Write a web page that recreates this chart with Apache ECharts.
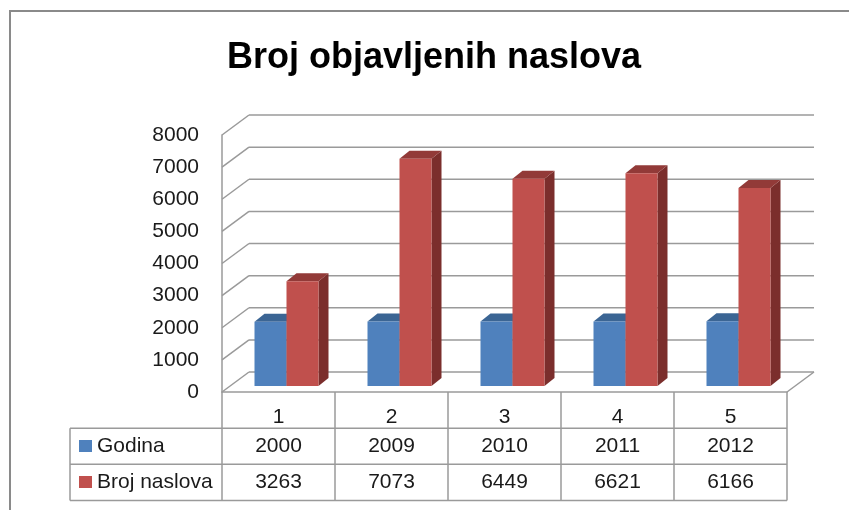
<!DOCTYPE html>
<html>
<head>
<meta charset="utf-8">
<script src="https://cdn.jsdelivr.net/npm/echarts@6/dist/echarts.min.js"></script>
<style>
html,body{margin:0;padding:0;background:#fff;}
#chart{width:849px;height:510px;}
</style>
</head>
<body>
<div id="chart"></div>
<script>
// ---- data ----
const titleText = 'Broj objavljenih naslova';
const categories = ['1', '2', '3', '4', '5'];
const seriesNames = ['Godina', 'Broj naslova'];
const godina = [2000, 2009, 2010, 2011, 2012];
const brojNaslova = [3263, 7073, 6449, 6621, 6166];
const yTicks = [0, 1000, 2000, 3000, 4000, 5000, 6000, 7000, 8000];

// ---- style ----
const FONT = 'Liberation Sans';
const TXT = '#1a1a1a';
const LINE = '#9a9a9a';
const LW = 1.5;
const DX = 27, DY = -20;           // depth offset of back wall
const BSX = 8, BSY = -6;           // bar front-face offset into depth
const BDX = 10, BDY = -8;          // bar depth
const BAR_W = 32;
const COLORS = [
  { front: '#4F81BD', top: '#3B6594', side: '#2F5078' },
  { front: '#C0504D', top: '#923A38', side: '#7B2E2C' }
];

const chart = echarts.init(document.getElementById('chart'), null, { renderer: 'canvas' });

function wallItem(params, api) {
  const v = api.value(1);
  const cs = params.coordSys;
  const y = api.coord([0, v])[1];
  const x0 = cs.x, x1 = cs.x + cs.width;
  const st = { stroke: LINE, lineWidth: LW, fill: null };
  const ch = [
    { type: 'line', shape: { x1: x0, y1: y, x2: x0 + DX, y2: y + DY }, style: st },
    { type: 'line', shape: { x1: x0 + DX, y1: y + DY, x2: x1 + DX, y2: y + DY }, style: st }
  ];
  if (v === 0) {
    ch.push({ type: 'line', shape: { x1: x1, y1: y, x2: x1 + DX, y2: y + DY }, style: st });
  }
  return { type: 'group', children: ch };
}

function barItem(side) {
  return function (params, api) {
    const idx = api.value(0), v = api.value(1);
    const base = api.coord([idx, 0]);
    const top = api.coord([idx, v]);
    const cx = base[0] + BSX;
    const y0 = base[1] + BSY;
    const y1 = top[1] + BSY;
    const x0 = side === 0 ? cx - BAR_W : cx;
    const x1 = x0 + BAR_W;
    const c = COLORS[side];
    return {
      type: 'group',
      children: [
        { type: 'polygon', shape: { points: [[x1, y1], [x1 + BDX, y1 + BDY], [x1 + BDX, y0 + BDY], [x1, y0]] }, style: { fill: c.side } },
        { type: 'polygon', shape: { points: [[x0, y1], [x1, y1], [x1 + BDX, y1 + BDY], [x0 + BDX, y1 + BDY]] }, style: { fill: c.top } },
        { type: 'rect', shape: { x: x0, y: y1, width: BAR_W, height: y0 - y1 }, style: { fill: c.front } }
      ]
    };
  };
}

function tableItem(params, api) {
  const idx = api.value(0);
  const p = api.coord([idx, 0]);
  const cx = p[0], yb = p[1];
  const ts = { fontFamily: FONT, fontSize: 21, fill: TXT, align: 'center', verticalAlign: 'middle' };
  return {
    type: 'group',
    children: [
      { type: 'text', style: Object.assign({ x: cx, y: yb + 54.5, text: String(godina[idx]) }, ts) },
      { type: 'text', style: Object.assign({ x: cx, y: yb + 90.5, text: String(brojNaslova[idx]) }, ts) }
    ]
  };
}

const option = {
  animation: false,
  backgroundColor: '#ffffff',
  title: {
    text: titleText,
    left: 227,
    top: 40,
    padding: 0,
    textStyle: { fontFamily: FONT, fontWeight: 'bold', fontSize: 36, color: '#000' }
  },
  legend: {
    data: seriesNames,
    orient: 'vertical',
    left: 79,
    top: 428,
    padding: 0,
    itemGap: 0,
    itemWidth: 13,
    itemHeight: 12,
    icon: 'rect',
    selectedMode: false,
    textStyle: { fontFamily: FONT, fontSize: 21, color: TXT, lineHeight: 36 }
  },
  grid: { left: 222, top: 135, width: 565, height: 257 },
  xAxis: {
    type: 'category',
    data: categories,
    axisLine: { show: true, lineStyle: { color: LINE, width: LW } },
    axisTick: { show: true, length: 108.5, lineStyle: { color: LINE, width: LW } },
    axisLabel: { margin: 15, fontFamily: FONT, fontSize: 21, color: TXT },
    splitLine: { show: false }
  },
  yAxis: {
    type: 'value',
    min: 0,
    max: 8000,
    interval: 1000,
    axisLine: { show: true, lineStyle: { color: LINE, width: LW } },
    axisTick: { show: false },
    splitLine: { show: false },
    axisLabel: { margin: 23, fontFamily: FONT, fontSize: 21, color: TXT, formatter: v => String(v) }
  },
  graphic: [
    { type: 'polyline', shape: { points: [[849, 11], [10, 11], [10, 510]] }, style: { stroke: '#8a8a8a', lineWidth: 2, fill: null } },
    { type: 'line', shape: { x1: 70, y1: 428.3, x2: 787, y2: 428.3 }, style: { stroke: LINE, lineWidth: LW } },
    { type: 'line', shape: { x1: 70, y1: 464.3, x2: 787, y2: 464.3 }, style: { stroke: LINE, lineWidth: LW } },
    { type: 'line', shape: { x1: 70, y1: 500.5, x2: 787, y2: 500.5 }, style: { stroke: LINE, lineWidth: LW } },
    { type: 'line', shape: { x1: 70, y1: 428.3, x2: 70, y2: 500.5 }, style: { stroke: LINE, lineWidth: LW } }
  ],
  series: [
    {
      type: 'custom', name: 'walls', clip: false, silent: true,
      renderItem: wallItem,
      data: yTicks.map(v => [0, v])
    },
    {
      type: 'custom', name: seriesNames[0], clip: false,
      itemStyle: { color: COLORS[0].front },
      renderItem: barItem(0),
      data: godina.map((v, i) => [i, v])
    },
    {
      type: 'custom', name: seriesNames[1], clip: false,
      itemStyle: { color: COLORS[1].front },
      renderItem: barItem(1),
      data: brojNaslova.map((v, i) => [i, v])
    },
    {
      type: 'custom', name: 'table', clip: false, silent: true,
      renderItem: tableItem,
      data: categories.map((c, i) => [i, 0])
    }
  ]
};
chart.setOption(option);
</script>
</body>
</html>
